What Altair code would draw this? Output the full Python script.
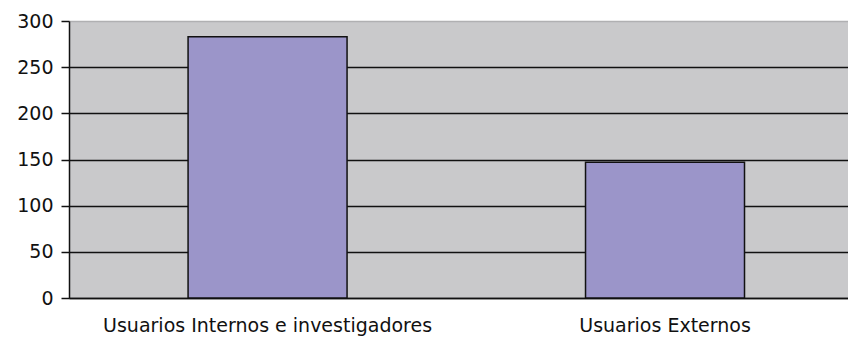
import altair as alt
import pandas as pd

categories = ["Usuarios Internos e investigadores", "Usuarios Externos"]
values = [283, 147]
y_ticks = [0, 50, 100, 150, 200, 250, 300]

df = pd.DataFrame({"cat": categories, "val": values})

FONT = "DejaVu Sans"

chart = alt.Chart(df).mark_bar(
    color="#9b95c9", stroke="#111111", strokeWidth=1.5
).encode(
    x=alt.X("cat:N", sort=categories, title=None,
            scale=alt.Scale(paddingInner=0.6, paddingOuter=0.28, align=0.535),
            axis=alt.Axis(labelAngle=0, ticks=False, labelPadding=18,
                          labelFont=FONT, labelFontSize=19, labelColor="#111111",
                          domainColor="#111111", domainWidth=1.5, grid=False,
                          labelLimit=500)),
    y=alt.Y("val:Q", title=None,
            scale=alt.Scale(domain=[0, 300], nice=False),
            axis=alt.Axis(values=y_ticks, tickSize=8, tickColor="#111111", tickWidth=1.5,
                          labelPadding=8, labelFont=FONT, labelFontSize=19,
                          labelColor="#111111", domainColor="#111111", domainWidth=1.5,
                          grid=True,
                          gridColor={"condition": {"test": "datum.value === 300", "value": "#b0b0b2"},
                                     "value": "#111111"},
                          gridWidth=1.5)),
).properties(
    width=779, height=277,
    background="white",
    padding={"left": 61, "top": 13, "right": 0, "bottom": 40},
    autosize=alt.AutoSizeParams(type="none"),
).configure_view(
    fill="#c9c9cb", stroke=None
)

chart.save("out.html", embed_options={"renderer": "svg", "actions": False})
